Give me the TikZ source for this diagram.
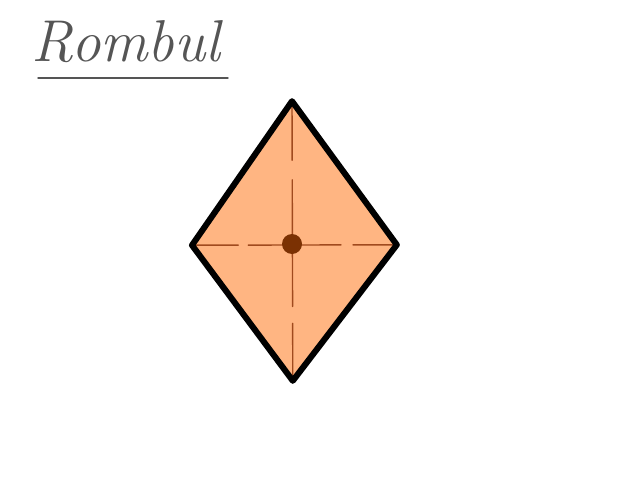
\documentclass[tikz,border=0pt]{standalone}
\usepackage{tkz-base}
\usepackage{tkz-euclide}
\definecolor{piel}{HTML}{FFB582}
\definecolor{diagonal}{HTML}{A04A1E}
\definecolor{centro}{HTML}{7B3103}
\definecolor{trazo}{HTML}{555555}
\begin{document}
\begin{tikzpicture}
        % Fija el marco del dibujo (16 x 12).
        \useasboundingbox (0,0) rectangle (16,12);

        % Define los vértices del rombo y su centro O.
        \tkzDefPoint(7.3,9.47){A}
        \tkzDefPoint(4.8,5.87){B}
        \tkzDefPoint(7.32,2.48){C}
        \tkzDefPoint(9.92,5.88){D}
        \tkzDefPoint(7.3,5.9){O}

        % Rellena el rombo y traza sus diagonales discontinuas.
        \tkzFillPolygon[color=piel](A,B,C,D)
        \tkzDrawSegment[color=diagonal,line width=1pt,dash pattern=on 42pt off 14pt on 90pt off 12pt](A,C)
        \tkzDrawSegment[color=diagonal,line width=1pt,dash pattern=on 33pt off 7pt on 66pt off 8.5pt](B,D)

        % Dibuja el contorno grueso del rombo.
        \tkzDrawPolygon[line width=4.3pt,line join=round](A,B,C,D)

        % Marca el centro O.
        \fill[centro] (O) circle (0.25);

        % Escribe el título y lo subraya.
        \node[text=trazo,font=\fontsize{42}{42}\selectfont\itshape] (titulo) at (3.15,10.95) {Rombul};
        \tkzDefPoint(0.95,10.05){U}
        \tkzDefPoint(5.7,10.05){V}
        \tkzDrawSegment[color=trazo,line width=1pt](U,V)
    \end{tikzpicture}
\end{document}
